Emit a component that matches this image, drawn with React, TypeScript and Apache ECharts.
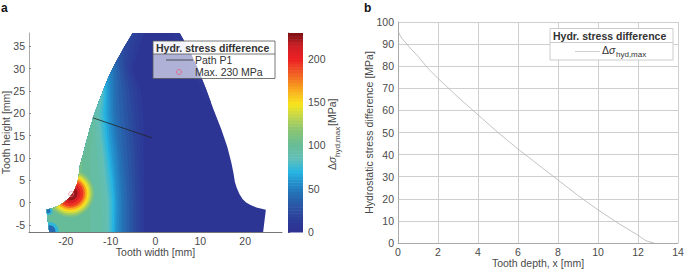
import React, { useEffect, useRef } from "react";
import * as echarts from "echarts";

// ---- panel a: tooth outline [x, y] in mm
const toothX = [-5.1, -7, -9.2, -10.5, -11.7, -12.8, -13.8, -14.7, -15.5, -16.2, -16.9, -17.05, -17.2, -17.5, -17.9, -18.5, -19.3, -20.2, -21.2, -22.5, -24.3, -23.7, 24, 24.6, 22.5, 21.3, 20.2, 19.4, 18.7, 18.1, 17.7, 17.4, 16.9, 16, 14.6, 13, 11.2, 9.3, 7.4, 5.4];
const toothY = [38, 34.8, 30.8, 28, 25, 22.2, 19.3, 16.3, 13.3, 10.6, 8.1, 6.5, 5.4, 4.2, 3.2, 2, 1, 0.2, -0.5, -1.1, -1.6, -6.6, -6.6, -1.6, -1.1, -0.6, 0, 0.8, 1.9, 3.3, 4.6, 6.5, 9, 12.5, 16.6, 20.7, 25.6, 30.4, 34.4, 38];

// contour boundaries: x position of each stress level at each height
const contourRows = [-6.6, 0, 5, 10, 15, 20, 25, 30, 35, 38];
const contourLevels = [12, 16, 20, 25, 30, 35, 40, 45, 50, 55, 60, 65, 70, 75, 80, 85, 90, 95, 100, 108];
const contourX = [
  [-2.5, -2.5, -2.5, -2.6, -2.6, -2.8, -3.2, -5.2, -3.6, -2.5],
  [-3.2, -3.2, -3.2, -3.3, -3.4, -3.7, -4.1, -5.8, -4.8, -3.6],
  [-3.8, -3.8, -3.8, -4, -4.2, -4.5, -5, -6.3, -6, -4.5],
  [-4.4, -4.4, -4.5, -4.7, -5, -5.3, -5.8, -6.9, -7, -6],
  [-5, -5, -5.2, -5.4, -5.8, -6.2, -6.6, -7.4, -8, -8],
  [-5.7, -5.7, -5.9, -6.2, -6.6, -7.1, -7.4, -8, -9, -9],
  [-6.3, -6.3, -6.6, -7, -7.5, -8, -8.2, -8.5, -9.5, -9.5],
  [-6.9, -6.9, -7.2, -7.6, -8.2, -8.7, -8.9, -9, -10, -10],
  [-7.5, -7.5, -7.8, -8.2, -8.8, -9.3, -9.4, -9.5, -10, -10],
  [-8.1, -8, -8.3, -8.7, -9.3, -9.8, -9.9, -10, -11, -11],
  [-8.6, -8.5, -8.8, -9.2, -9.8, -10.2, -10.3, -10.4, -11, -11],
  [-9, -8.9, -9.2, -9.7, -10.3, -10.7, -10.7, -10.8, -12, -12],
  [-9.3, -9.2, -9.6, -10.2, -10.8, -11.2, -11.1, -11.2, -12, -12],
  [-9.7, -9.6, -10, -10.6, -11.2, -11.6, -11.3, -12, -13, -13],
  [-10, -10, -10.5, -11, -11.7, -12, -11.5, -12.5, -13, -13],
  [-10.4, -10.5, -11, -11.5, -12.1, -12.5, -11.8, -13, -14, -14],
  [-10.8, -11, -11.5, -12, -12.6, -13, -12.3, -13.5, -14, -14],
  [-11.8, -12, -12.5, -13, -13.3, -13.6, -13.2, -14, -15, -15],
  [-14.5, -14.5, -14.5, -14.6, -14.2, -14.4, -14, -15, -15, -15],
  [-40, -16.5, -16.5, -16.3, -16, -16.5, -17, -17, -17, -17],
];

// slightly lighter strip along the upper right flank
const stripX = [3.6, 7, 9.5, 11.3, 13.2, 10.5, 7.5, 6];
const stripY = [38, 31, 26.5, 22.5, 22.5, 31, 38, 38];
const stripLevel = 9;

// hot spot at the root fillet: stress level and radius
const hotCentre = [-19, 2.1];
const hotLevels = [112, 125, 138, 150, 165, 180, 195, 210, 225];
const hotRadii = [5.3, 4.9, 4.5, 4.1, 3.7, 3.3, 2.9, 2.3, 1.6];

// low-stress spots at the lower left corner: x, y, level, radius
const spotX = [-23.6, -23.6, -23.9, -23.9];
const spotY = [-6.4, -6.4, -1.9, -1.9];
const spotLevels = [72, 40, 72, 45];
const spotRadii = [2.0, 1.3, 0.9, 0.5];

const pathX = [-14, -0.8];
const pathY = [19, 14.5];
const maxPoint = [-18.8, 1.9];

const toothTicksX = [-20, -10, 0, 10, 20];
const toothTicksY = [-5, 0, 5, 10, 15, 20, 25, 30, 35];
const barTicks = [0, 50, 100, 150, 200];

const colorStops = [0, 15, 30, 45, 58, 70, 85, 100, 120, 135, 148, 165, 180, 200, 215, 230];
const colorValues = ["#2e3192", "#2c3d98", "#2a55a4", "#2571b6", "#2290cc", "#27b6e2", "#62bfb8", "#66bc98", "#8fc66e", "#c6d84a", "#f8e51c", "#f9a91f", "#f26b22", "#ec2024", "#cf1f26", "#7b1113"];

// ---- panel b
const depth = [0, 0.05, 0.1, 0.2, 0.3, 0.6, 1, 1.5, 2, 3, 4, 5, 6, 7, 8, 9, 10, 11, 12, 12.4, 12.8];
const stress = [96, 95, 94, 92.5, 91.5, 88.3, 84.5, 79, 74.5, 66, 58, 50, 42.5, 35.5, 28.5, 21.5, 15, 9, 3.5, 1, 0];

const TEXT = "#4a4a4a";
const FONT = "'Liberation Sans', Arial, sans-serif";

function hex(c: string) {
  return [1, 3, 5].map((i) => parseInt(c.slice(i, i + 2), 16));
}
function colorOf(v: number) {
  let i = 0;
  while (i < colorStops.length - 2 && v > colorStops[i + 1]) i++;
  const t = Math.max(0, Math.min(1, (v - colorStops[i]) / (colorStops[i + 1] - colorStops[i])));
  const a = hex(colorValues[i]);
  const b = hex(colorValues[i + 1]);
  return `rgb(${a.map((x, k) => Math.round(x + (b[k] - x) * t)).join(",")})`;
}

type Item = { kind: string; index: number };
const fieldItems: Item[] = [
  { kind: "base", index: 0 },
  { kind: "strip", index: 0 },
  ...contourLevels.map((_, index) => ({ kind: "band", index })),
  ...spotLevels.map((_, index) => ({ kind: "spot", index })),
  ...hotLevels.map((_, index) => ({ kind: "hot", index })),
];
const barCells = Array.from({ length: 64 }, (_, i) => i);

export default function App() {
  const ref = useRef<HTMLDivElement>(null);
  useEffect(() => {
    document.body.style.margin = "0";
    const chart = echarts.init(ref.current!, undefined, { renderer: "svg" });

    const renderField = (params: any, api: any) => {
      const item = fieldItems[params.dataIndex];
      const outline = toothX.map((x, i) => api.coord([x, toothY[i]]));
      const clipPath = { type: "polygon", shape: { points: outline } };
      if (item.kind === "base") {
        return { type: "polygon", shape: { points: outline }, style: { fill: colorOf(5) } };
      }
      if (item.kind === "strip") {
        const pts = stripX.map((x, i) => api.coord([x, stripY[i]]));
        return { type: "polygon", shape: { points: pts }, clipPath, style: { fill: colorOf(stripLevel) } };
      }
      if (item.kind === "band") {
        const xs = contourX[item.index];
        const pts = contourRows.map((y, i) => api.coord([xs[i], y]));
        pts.push(api.coord([-40, 38]), api.coord([-40, -6.6]));
        return { type: "polygon", shape: { points: pts }, clipPath, style: { fill: colorOf(contourLevels[item.index]) } };
      }
      const isHot = item.kind === "hot";
      const cx = isHot ? hotCentre[0] : spotX[item.index];
      const cy = isHot ? hotCentre[1] : spotY[item.index];
      const r = isHot ? hotRadii[item.index] : spotRadii[item.index];
      const level = isHot ? hotLevels[item.index] : spotLevels[item.index];
      const c = api.coord([cx, cy]);
      return {
        type: "circle",
        shape: { cx: c[0], cy: c[1], r: api.size([r, 0])[0] },
        clipPath,
        style: { fill: colorOf(level) },
      };
    };

    const renderBar = (params: any, api: any) => {
      const step = 230 / barCells.length;
      const lo = params.dataIndex * step;
      const a = api.coord([0, lo + step]);
      const b = api.coord([1, lo]);
      return {
        type: "rect",
        shape: { x: a[0], y: a[1], width: b[0] - a[0], height: b[1] - a[1] + 0.5 },
        style: { fill: colorOf(lo + step / 2) },
      };
    };

    const label = { color: TEXT, fontSize: 10.5, fontFamily: FONT };
    const name = { color: TEXT, fontSize: 10.5, fontFamily: FONT };
    const t = (x: number, y: number, text: string, extra: any = {}) => ({
      type: "text",
      x,
      y,
      z: 102,
      style: { text, fill: "#333", font: `10.5px ${FONT}`, textVerticalAlign: "middle", ...extra },
    });

    chart.setOption({
      animation: false,
      backgroundColor: "#fff",
      grid: [
        { left: 29, top: 33, width: 253, height: 199, outerBoundsMode: "none" },
        { left: 288, top: 33, width: 15, height: 199, outerBoundsMode: "none" },
        { left: 398, top: 22, width: 280, height: 221, outerBoundsMode: "none" },
      ],
      xAxis: [
        {
          gridIndex: 0, type: "value", min: -28.2, max: 28.2,
          name: "Tooth width [mm]", nameLocation: "middle", nameGap: 14, nameMoveOverlap: false, nameTextStyle: name,
          axisLine: { onZero: false, lineStyle: { color: "#777", width: 1 } },
          axisTick: { inside: true, length: 2, lineStyle: { color: "#777" }, customValues: toothTicksX },
          axisLabel: { ...label, margin: 3, customValues: toothTicksX },
          splitLine: { show: false },
        },
        { gridIndex: 1, type: "value", min: 0, max: 1, show: false },
        {
          gridIndex: 2, type: "value", min: 0, max: 14, interval: 2,
          name: "Tooth depth, x [mm]", nameLocation: "middle", nameGap: 14, nameMoveOverlap: false, nameTextStyle: name,
          axisLine: { lineStyle: { color: "#aaa", width: 1 } },
          axisTick: { show: false },
          axisLabel: { ...label, margin: 3 },
          splitLine: { show: true, lineStyle: { color: "#cfcfcf", width: 1 } },
        },
      ],
      yAxis: [
        {
          gridIndex: 0, type: "value", min: -6.6, max: 38,
          name: "Tooth height [mm]", nameLocation: "middle", nameGap: 18, nameMoveOverlap: false, nameTextStyle: name,
          axisLine: { show: true, onZero: false, lineStyle: { color: "#aaa", width: 1 } },
          axisTick: { show: true, inside: true, length: 2, lineStyle: { color: "#888" }, customValues: toothTicksY },
          axisLabel: { ...label, margin: 4, customValues: toothTicksY },
          splitLine: { show: false },
        },
        {
          gridIndex: 1, type: "value", min: 0, max: 230, position: "right",
          axisLine: { show: true, lineStyle: { color: "#666", width: 1 } },
          axisTick: { show: true, inside: false, length: 2, lineStyle: { color: "#666" }, customValues: barTicks },
          axisLabel: { ...label, margin: 5, customValues: barTicks },
          splitLine: { show: false },
        },
        {
          gridIndex: 2, type: "value", min: 0, max: 100, interval: 10,
          name: "Hydrostatic stress difference [MPa]", nameLocation: "middle", nameGap: 24, nameMoveOverlap: false, nameTextStyle: name,
          axisLine: { show: true, lineStyle: { color: "#aaa", width: 1 } },
          axisTick: { show: false },
          axisLabel: { ...label, margin: 4 },
          splitLine: { show: true, lineStyle: { color: "#cfcfcf", width: 1 } },
        },
      ],
      series: [
        { type: "custom", xAxisIndex: 0, yAxisIndex: 0, clip: false, z: 1, renderItem: renderField, data: fieldItems.map((_, i) => [i]), silent: true },
        { type: "line", xAxisIndex: 0, yAxisIndex: 0, z: 3, showSymbol: false, lineStyle: { color: "#222", width: 0.8 }, data: pathX.map((x, i) => [x, pathY[i]]) },
        { type: "scatter", xAxisIndex: 0, yAxisIndex: 0, z: 3, symbol: "circle", symbolSize: 5, itemStyle: { color: "transparent", borderColor: "#ef7f93", borderWidth: 0.8 }, data: [maxPoint] },
        { type: "custom", xAxisIndex: 1, yAxisIndex: 1, clip: false, z: 1, renderItem: renderBar, data: barCells.map((i) => [i]), silent: true },
        { type: "line", xAxisIndex: 2, yAxisIndex: 2, z: 3, showSymbol: false, lineStyle: { color: "#b4b4b4", width: 0.8 }, data: depth.map((x, i) => [x, stress[i]]) },
      ],
      graphic: [
        { type: "text", x: 1, y: 8, z: 102, style: { text: "a", fill: "#111", font: `bold 12px ${FONT}`, textVerticalAlign: "middle" } },
        { type: "text", x: 364, y: 8, z: 102, style: { text: "b", fill: "#111", font: `bold 12px ${FONT}`, textVerticalAlign: "middle" } },
        // colour bar title, rotated
        {
          type: "group", x: 332, y: 170, rotation: Math.PI / 2, z: 102,
          children: [
            { type: "text", x: 0, y: 0, z: 102, style: { text: "Δ", fill: TEXT, font: `10.5px ${FONT}`, textVerticalAlign: "middle" } },
            { type: "text", x: 7, y: 0, z: 102, style: { text: "σ", fill: TEXT, font: `italic 10.5px ${FONT}`, textVerticalAlign: "middle" } },
            { type: "text", x: 13, y: 5, z: 102, style: { text: "hyd,max", fill: TEXT, font: `8px ${FONT}`, textVerticalAlign: "middle" } },
            { type: "text", x: 44, y: 0, z: 102, style: { text: "[MPa]", fill: TEXT, font: `10.5px ${FONT}`, textVerticalAlign: "middle" } },
          ],
        },
        // legend of panel a
        { type: "rect", z: 100, shape: { x: 153, y: 41, width: 122, height: 13 }, style: { fill: "rgba(255,255,255,0.95)" } },
        { type: "rect", z: 100, shape: { x: 153, y: 54, width: 122, height: 24.5 }, style: { fill: "rgba(255,255,255,0.62)" } },
        { type: "rect", z: 101, shape: { x: 153, y: 41, width: 122, height: 37.5 }, style: { fill: "none", stroke: "#555", lineWidth: 0.8 } },
        { type: "line", z: 101, shape: { x1: 153, y1: 54, x2: 275, y2: 54 }, style: { stroke: "#555", lineWidth: 0.8 } },
        t(156, 47.5, "Hydr. stress difference", { font: `bold 10.5px ${FONT}` }),
        { type: "line", z: 101, shape: { x1: 166, y1: 60, x2: 193, y2: 60 }, style: { stroke: "#333", lineWidth: 0.8 } },
        t(195, 60, "Path P1"),
        { type: "circle", z: 101, shape: { cx: 179, cy: 72, r: 2.5 }, style: { fill: "none", stroke: "#e8607a", lineWidth: 0.8 } },
        t(195, 71.5, "Max. 230 MPa"),
        // legend of panel b
        { type: "rect", z: 100, shape: { x: 550, y: 28.5, width: 123, height: 31.5 }, style: { fill: "#fff", stroke: "#ccc", lineWidth: 1 } },
        { type: "line", z: 101, shape: { x1: 550, y1: 42.5, x2: 673, y2: 42.5 }, style: { stroke: "#ccc", lineWidth: 1 } },
        t(553, 35.5, "Hydr. stress difference", { font: `bold 10.5px ${FONT}` }),
        { type: "line", z: 101, shape: { x1: 575, y1: 51.5, x2: 600, y2: 51.5 }, style: { stroke: "#c4c4c4", lineWidth: 0.8 } },
        t(602, 49.5, "Δ"),
        t(609, 49.5, "σ", { font: `italic 10.5px ${FONT}` }),
        t(616, 54.5, "hyd,max", { font: `8px ${FONT}` }),
      ],
    });
    return () => chart.dispose();
  }, []);
  return <div ref={ref} style={{ width: 685, height: 270 }} />;
}
